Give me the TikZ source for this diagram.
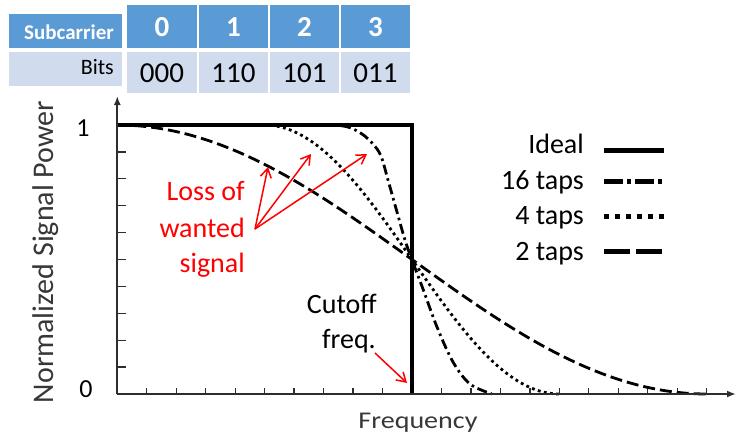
\documentclass[tikz,border=0pt]{standalone}
\usepackage{fontspec}
\setmainfont{Carlito}
\usetikzlibrary{arrows.meta}
\definecolor{hdr}{RGB}{91,155,213}
\definecolor{rowc}{RGB}{208,219,238}
\definecolor{axisgray}{RGB}{45,45,45}
\definecolor{labgray}{RGB}{55,55,55}
\newcommand\fsz[1]{\fontsize{#1}{#1}\selectfont}
\tikzset{
  txt/.style={inner sep=0pt, anchor=base east},
  ctxt/.style={inner sep=0pt, anchor=base},
  axisline/.style={draw=axisgray, line width=2pt, -{Latex[length=9pt,width=7pt]}},
  tickline/.style={draw=axisgray, line width=1.3pt},
  ideal/.style={draw=black, line width=4pt, line join=miter},
  tapsixteen/.style={draw=black, line width=2.8pt, dash pattern=on 10pt off 4pt on 2.5pt off 4pt},
  tapfour/.style={draw=black, line width=2.8pt, dash pattern=on 2.8pt off 3.4pt},
  taptwo/.style={draw=black, line width=2.8pt, dash pattern=on 12pt off 5pt},
  redarrow/.style={draw=red, line width=1.5pt, -{Straight Barb[length=9pt,width=11pt,line width=1.5pt]}},
}
\begin{document}
\begin{tikzpicture}[x=1pt,y=-1pt]
\useasboundingbox (0,0) rectangle (736,440);
% ---------- table ----------
\fill[hdr] (9,14) rectangle (122,48);
\fill[hdr] (127,5) rectangle (197,48);
\fill[hdr] (199,5) rectangle (268,48);
\fill[hdr] (270,5) rectangle (339,48);
\fill[hdr] (341,5) rectangle (410,48);
\fill[rowc] (9,52) rectangle (122,86);
\fill[rowc] (127,52) rectangle (197,93);
\fill[rowc] (199,52) rectangle (268,93);
\fill[rowc] (270,52) rectangle (339,93);
\fill[rowc] (341,52) rectangle (410,93);
\node[txt, text=white, font=\fsz{21}\bfseries] (sc) at (114,39) {Subcarrier};
\node[ctxt, text=white, font=\fsz{29}\bfseries] (h0) at (162,36) {0};
\node[ctxt, text=white, font=\fsz{29}\bfseries] (h1) at (233.5,36) {1};
\node[ctxt, text=white, font=\fsz{29}\bfseries] (h2) at (304.5,36) {2};
\node[ctxt, text=white, font=\fsz{29}\bfseries] (h3) at (375.5,36) {3};
\node[txt, text=black, font=\fsz{22}] (bits) at (114,74) {Bits};
\node[ctxt, font=\fsz{29}] (b0) at (162,82) {000};
\node[ctxt, font=\fsz{29}] (b1) at (233.5,82) {110};
\node[ctxt, font=\fsz{29}] (b2) at (304.5,82) {101};
\node[ctxt, font=\fsz{29}] (b3) at (375.5,82) {011};
% ---------- axes ----------
\coordinate (O) at (117.3,394);
\coordinate (ytop) at (117.3,96);
\coordinate (xend) at (736,394);
\foreach \k in {1,...,9}
  \draw[tickline] (117.3,{394-26.9*\k}) -- (125.5,{394-26.9*\k});
\foreach \k in {1,...,20}
  \draw[tickline] ({117.3+29.47*\k},394) -- ({117.3+29.47*\k},388);
% ---------- curves ----------
\draw[taptwo] plot[domain=0:2, samples=120] ({117.3+294.7*\x}, {394-134.5*(1+cos(90*\x))});
\draw[tapfour] plot[domain=0.5:1.5, samples=100] ({117.3+294.7*\x}, {394-134.5*(1+cos(180*(\x-0.5)))});
\draw[tapsixteen] plot[smooth, tension=0.55] coordinates {(300,125) (330,125) (348,127) (362,134) (373,144) (381,156) (388,180) (397,212) (405,240) (412,260) (423,289) (437,327) (453,362) (470,384) (492,394)};
\draw[ideal] (117.3,125) -- (412,125) -- (412,394);
\draw[axisline] (O) -- (ytop);
\draw[axisline] (O) -- (xend);
% ---------- axis labels ----------
\node[ctxt, font=\fsz{26}] (one) at (83,136) {1};
\node[ctxt, font=\fsz{26}] (zero) at (86,397) {0};
\node[inner sep=0pt, anchor=base, rotate=90, text=labgray, font=\fsz{30}] (ylab) at (53,252) {Normalized Signal Power};
\node[ctxt, text=labgray, font=\fsz{24}] (xlab) at (418,428) {\scalebox{1.17}[1]{Frequency}};
% ---------- legend ----------
\node[txt, font=\fsz{28}] (lideal) at (584,153) {Ideal};
\node[txt, font=\fsz{28}] (l16) at (584,189) {16 taps};
\node[txt, font=\fsz{28}] (l4) at (584,224) {4 taps};
\node[txt, font=\fsz{28}] (l2) at (584,260) {2 taps};
\draw[draw=black, line width=5pt] (604,150) -- (664,150);
\draw[draw=black, line width=5pt, dash pattern=on 19pt off 4pt on 4pt off 4pt] (604,181) -- (664,181);
\draw[draw=black, line width=5pt, dash pattern=on 5pt off 6pt] (604,216) -- (664,216);
\draw[draw=black, line width=5pt, dash pattern=on 26pt off 6pt] (604,251) -- (664,251);
% ---------- annotations ----------
\node[txt, text=red, font=\fsz{28}] (loss1) at (245,200) {Loss of};
\node[txt, text=red, font=\fsz{28}] (loss2) at (245,237) {wanted};
\node[txt, text=red, font=\fsz{28}] (loss3) at (245,272) {signal};
\coordinate (lossfrom) at (255,229);
\coordinate (lossA) at (268,167);
\coordinate (lossB) at (311,154);
\coordinate (lossC) at (367,154);
\draw[redarrow] (lossfrom) -- (lossA);
\draw[redarrow] (lossfrom) -- (lossB);
\draw[redarrow] (lossfrom) -- (lossC);
\node[txt, font=\fsz{28}] (cut1) at (377,313) {Cutoff};
\node[txt, font=\fsz{28}] (cut2) at (376,348) {freq.};
\coordinate (cutfrom) at (375,353);
\coordinate (cutto) at (407,383);
\draw[redarrow] (cutfrom) -- (cutto);
\end{tikzpicture}
\end{document}
